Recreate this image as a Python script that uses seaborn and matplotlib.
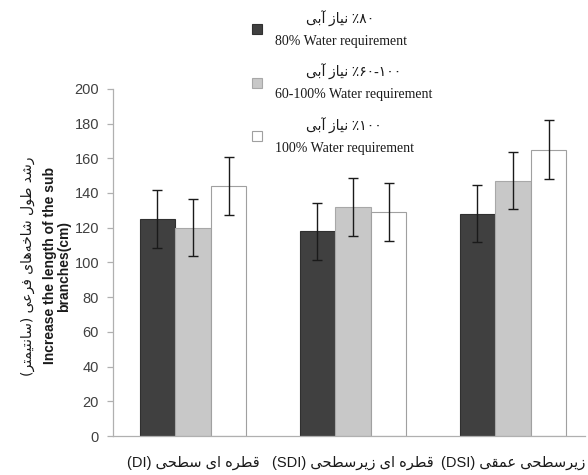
import numpy as np
import pandas as pd
import matplotlib
matplotlib.use("Agg")
import matplotlib.pyplot as plt
import seaborn as sns
from matplotlib.patches import Patch
from matplotlib.font_manager import findfont, FontProperties
from matplotlib.ft2font import FT2Font

# ---------------- data ----------------
systems = ["DI", "SDI", "DSI"]
system_labels_fa = ["قطره ای سطحی (DI)", "قطره ای زیرسطحی (SDI)", "زیرسطحی عمقی (DSI)"]
levels_fa = ["۸۰٪ نیاز آبی", "۱۰۰-۶۰٪ نیاز آبی", "۱۰۰٪ نیاز آبی"]
levels_en = ["80% Water requirement", "60-100% Water requirement", "100% Water requirement"]
mean_80 = [125, 118, 128]
mean_60_100 = [120, 132, 147]
mean_100 = [144, 129, 165]
err_80 = [16.5, 16.5, 16.5]
err_60_100 = [16.5, 16.5, 16.5]
err_100 = [16.5, 16.5, 17]
ylabel_fa = "رشد طول شاخه\u200cهای فرعی (سانتیمتر)"
ylabel_en = "Increase the length of the sub\nbranches(cm)"
yticks = [0, 20, 40, 60, 80, 100, 120, 140, 160, 180, 200]

# ------------- simple Persian shaping (presentation forms) -------------
_font = FT2Font(findfont(FontProperties(family="DejaVu Sans")))
def has(ch):
    try:
        return _font.get_char_index(ord(ch)) != 0
    except Exception:
        return False

FORMS = {
    "\u0627": ("\uFE8D", "\uFE8E", None, None),
    "\u0622": ("\uFE81", "\uFE82", None, None),
    "\u0628": ("\uFE8F", "\uFE90", "\uFE91", "\uFE92"),
    "\u062A": ("\uFE95", "\uFE96", "\uFE97", "\uFE98"),
    "\u062D": ("\uFEA1", "\uFEA2", "\uFEA3", "\uFEA4"),
    "\u062E": ("\uFEA5", "\uFEA6", "\uFEA7", "\uFEA8"),
    "\u062F": ("\uFEA9", "\uFEAA", None, None),
    "\u0631": ("\uFEAD", "\uFEAE", None, None),
    "\u0632": ("\uFEAF", "\uFEB0", None, None),
    "\u0633": ("\uFEB1", "\uFEB2", "\uFEB3", "\uFEB4"),
    "\u0634": ("\uFEB5", "\uFEB6", "\uFEB7", "\uFEB8"),
    "\u0637": ("\uFEC1", "\uFEC2", "\uFEC3", "\uFEC4"),
    "\u0639": ("\uFEC9", "\uFECA", "\uFECB", "\uFECC"),
    "\u0641": ("\uFED1", "\uFED2", "\uFED3", "\uFED4"),
    "\u0642": ("\uFED5", "\uFED6", "\uFED7", "\uFED8"),
    "\u0644": ("\uFEDD", "\uFEDE", "\uFEDF", "\uFEE0"),
    "\u0645": ("\uFEE1", "\uFEE2", "\uFEE3", "\uFEE4"),
    "\u0646": ("\uFEE5", "\uFEE6", "\uFEE7", "\uFEE8"),
    "\u0647": ("\uFEE9", "\uFEEA", "\uFEEB", "\uFEEC"),
    "\u0648": ("\uFEED", "\uFEEE", None, None),
}
if all(has(c) for c in "\uFBFC\uFBFD\uFBFE\uFBFF"):
    FORMS["\u06CC"] = ("\uFBFC", "\uFBFD", "\uFBFE", "\uFBFF")
else:
    FORMS["\u06CC"] = ("\uFEEF", "\uFEF0", "\uFEF3", "\uFEF4")

MIRROR = {"(": ")", ")": "("}

def _digit_fix(ch):
    if "\u06F0" <= ch <= "\u06F9" and not has(ch):
        return chr(ord(ch) - 0x06F0 + 0x0660)
    if ch == "\u066A" and not has(ch):
        return "%"
    return ch

def shape(s):
    def dual(c):
        return c in FORMS and FORMS[c][2] is not None
    out = []
    for i, c in enumerate(s):
        if c not in FORMS:
            out.append(_digit_fix(c))
            continue
        prev = s[i - 1] if i > 0 else ""
        nxt = s[i + 1] if i + 1 < len(s) else ""
        cp = dual(prev)
        cn = dual(c) and nxt in FORMS
        iso, fin, ini, med = FORMS[c]
        out.append(med if (cp and cn) else fin if cp else ini if cn else iso)
    return "".join(out).replace("\u200c", "")

def is_ltr(ch):
    return (ch.isascii() and ch.isalnum()) or ("\u06F0" <= ch <= "\u06F9") or ("\u0660" <= ch <= "\u0669")

def visual(s):
    t = shape(s)
    runs = []
    for ch in t:
        l = is_ltr(ch)
        if runs and runs[-1][0] == l:
            runs[-1][1] += ch
        else:
            runs.append([l, ch])
    out = ""
    for l, txt in reversed(runs):
        out += txt if l else "".join(MIRROR.get(c, c) for c in reversed(txt))
    return out

# ---------------- figure ----------------
sns.set_theme(style="white")
plt.rcParams["font.family"] = ["Liberation Sans", "DejaVu Sans"]

df = pd.DataFrame({
    "system": systems * 3,
    "level": [levels_en[0]] * 3 + [levels_en[1]] * 3 + [levels_en[2]] * 3,
    "value": mean_80 + mean_60_100 + mean_100,
})
errs = [err_80, err_60_100, err_100]
fill = ["#404040", "#c8c8c8", "#ffffff"]
edges = ["#303030", "#a8a8a8", "#a0a0a0"]

fig = plt.figure(figsize=(5.88, 4.75), dpi=100)
ax = fig.add_axes([0.192, 0.082, 0.803, 0.731])

sns.barplot(data=df, x="system", y="value", hue="level", hue_order=levels_en,
            order=systems, palette=fill, width=0.667, errorbar=None,
            legend=False, ax=ax, saturation=1, linewidth=0.8)

bw = 0.667 / 3
xs, ys, es = [], [], []
for p in ax.patches:
    xc = p.get_x() + p.get_width() / 2
    ci = int(round(xc))
    hi = int(round((xc - ci) / bw)) + 1
    p.set_edgecolor(edges[hi])
    xs.append(xc)
    ys.append(p.get_height())
    es.append(errs[hi][ci])
ax.errorbar(xs, ys, yerr=es, fmt="none", ecolor="#1a1a1a", elinewidth=1.0,
            capsize=3.6, capthick=1.0, zorder=5)

ax.set_ylim(0, 200)
ax.set_xlim(-0.5, 2.45)
ax.set_yticks(yticks)
ax.set_yticklabels([str(v) for v in yticks], fontsize=10.5, color="#404040",
                   family=["Liberation Sans"])
ax.set_xticks(range(len(systems)))
ax.set_xticklabels([visual(s) for s in system_labels_fa], fontsize=10.5,
                   color="#1a1a1a", family=["Liberation Sans", "DejaVu Sans"])
ax.set_xlabel("")
ax.set_ylabel("")
for side in ["top", "right"]:
    ax.spines[side].set_visible(False)
for side in ["left", "bottom"]:
    ax.spines[side].set_color("#b0b0b0")
    ax.spines[side].set_linewidth(0.9)
ax.tick_params(axis="y", length=4, color="#b0b0b0", width=0.9, left=True, pad=6)
ax.tick_params(axis="x", length=0, pad=14)
ax.grid(False)

fig.text(0.048, 0.44, visual(ylabel_fa), rotation=90, ha="center", va="center",
         fontsize=10, family=["DejaVu Sans"], color="#1a1a1a")
fig.text(0.097, 0.44, ylabel_en, rotation=90, ha="center", va="center",
         multialignment="center", fontsize=10, fontweight="bold",
         family=["Liberation Sans"], color="#1a1a1a", linespacing=1.05)

handles = [Patch(facecolor=fill[i], edgecolor=edges[i], linewidth=0.8) for i in range(3)]
labels = [visual(levels_fa[i]) + "\n" + levels_en[i] for i in range(3)]
leg = fig.legend(handles, labels, loc="upper left", bbox_to_anchor=(0.428, 0.978),
                 frameon=False, prop={"family": ["Liberation Serif", "DejaVu Sans"], "size": 10},
                 handlelength=0.75, handleheight=0.75, handletextpad=0.9,
                 labelspacing=1.18, borderpad=0, borderaxespad=0)
for t in leg.get_texts():
    t.set_multialignment("center")
    t.set_linespacing(1.8)
    t.set_color("#1a1a1a")

fig.savefig("out.png", dpi=100)
